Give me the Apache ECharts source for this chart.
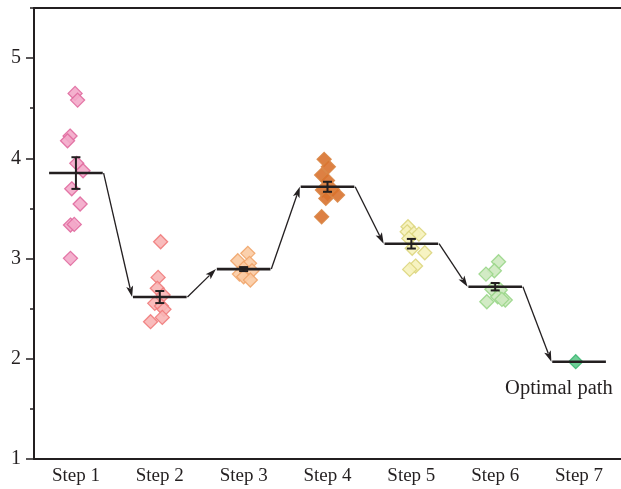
<!DOCTYPE html>
<html>
<head>
<meta charset="utf-8">
<script src="https://cdn.jsdelivr.net/npm/echarts@6/dist/echarts.min.js"></script>
<style>html,body{margin:0;padding:0;background:#fff}#main{width:621px;height:489px}</style>
</head>
<body>
<div id="main"></div>
<script>
const categories = ['Step 1', 'Step 2', 'Step 3', 'Step 4', 'Step 5', 'Step 6', 'Step 7'];
const yTicks = [1, 2, 3, 4, 5];
const means = [3.853, 2.616, 2.895, 3.716, 3.148, 2.719, 1.971];
const errors = [0.158, 0.06, 0.02, 0.05, 0.048, 0.037, 0];
// [jitter offset from step centre, value]
const step1 = [[-0.01, 4.648], [0.02, 4.581], [-0.07, 4.222], [-0.10, 4.175], [0.01, 3.950], [0.085, 3.876], [-0.05, 3.696], [0.05, 3.544], [-0.065, 3.334], [-0.02, 3.341], [-0.065, 3.002]];
const step2 = [[0.01, 3.168], [-0.02, 2.812], [-0.03, 2.703], [0.04, 2.636], [-0.06, 2.553], [0.02, 2.526], [0.05, 2.493], [0.03, 2.413], [-0.11, 2.370]];
const step3 = [[0.05, 3.052], [-0.07, 2.978], [0.07, 2.952], [0.0, 2.902], [0.10, 2.878], [-0.05, 2.845], [0.0, 2.818], [0.08, 2.786]];
const step4 = [[-0.04, 3.990], [0.01, 3.916], [-0.07, 3.833], [0.0, 3.780], [-0.06, 3.683], [0.06, 3.690], [0.0, 3.650], [0.12, 3.633], [-0.02, 3.600], [-0.07, 3.417]];
const step5 = [[-0.04, 3.317], [-0.05, 3.267], [0.03, 3.251], [0.09, 3.244], [-0.03, 3.201], [0.01, 3.102], [0.16, 3.058], [0.05, 2.925], [-0.02, 2.892]];
const step6 = [[0.04, 2.968], [-0.01, 2.878], [-0.11, 2.845], [-0.04, 2.693], [0.06, 2.686], [0.03, 2.619], [0.12, 2.586], [-0.10, 2.569], [0.08, 2.593]];
const step7 = [[-0.04, 1.971]];
const steps = [step1, step2, step3, step4, step5, step6, step7];
const fills = ['#f3a8c9', '#f8b5b5', '#fbcba3', '#d9722f', '#f6f2bb', '#cde9bf', '#5ec98b'];
const borders = ['#e06a9e', '#ef7b7b', '#f0a56c', '#d98545', '#dcd57e', '#9ad689', '#3fb874'];
const note = 'Optimal path';

const FONT = '"Liberation Serif", "DejaVu Serif", serif';
const INK = '#231f20';
const HALF = 0.32;

const chart = echarts.init(document.getElementById('main'));

const scatterSeries = steps.map((pts, i) => ({
  type: 'scatter',
  xAxisIndex: 1,
  yAxisIndex: 0,
  symbol: 'diamond',
  symbolSize: 14,
  z: 2,
  itemStyle: { color: fills[i], borderColor: borders[i], borderWidth: 1.3, opacity: 0.9 },
  data: pts.map(p => [i + 1 + p[0], p[1]])
}));

const meanSeries = {
  type: 'custom',
  xAxisIndex: 1,
  yAxisIndex: 0,
  z: 5,
  data: means.map((m, i) => [i + 1, m, errors[i]]),
  renderItem: function (params, api) {
    const x = api.value(0), m = api.value(1), e = api.value(2);
    const a = api.coord([x - HALF, m]);
    const b = api.coord([x + HALF, m]);
    const children = [{
      type: 'line', shape: { x1: a[0], y1: a[1], x2: b[0], y2: b[1] },
      style: { stroke: INK, lineWidth: 2.6 }
    }];
    if (e > 0) {
      const t = api.coord([x, m + e]);
      const bt = api.coord([x, m - e]);
      const cw = 4.5;
      children.push({ type: 'line', shape: { x1: t[0], y1: t[1], x2: bt[0], y2: bt[1] }, style: { stroke: INK, lineWidth: 2 } });
      children.push({ type: 'line', shape: { x1: t[0] - cw, y1: t[1], x2: t[0] + cw, y2: t[1] }, style: { stroke: INK, lineWidth: 2 } });
      children.push({ type: 'line', shape: { x1: bt[0] - cw, y1: bt[1], x2: bt[0] + cw, y2: bt[1] }, style: { stroke: INK, lineWidth: 2 } });
    }
    return { type: 'group', children: children };
  }
};

const arrowSeries = {
  type: 'custom',
  xAxisIndex: 1,
  yAxisIndex: 0,
  z: 4,
  data: means.slice(0, -1).map((m, i) => [i + 1, m, means[i + 1]]),
  renderItem: function (params, api) {
    const x = api.value(0);
    const s = api.coord([x + HALF + 0.01, api.value(1)]);
    const e = api.coord([x + 1 - HALF - 0.01, api.value(2)]);
    const dx = e[0] - s[0], dy = e[1] - s[1];
    const len = Math.sqrt(dx * dx + dy * dy);
    const ux = dx / len, uy = dy / len;
    const L = 11, W = 3.5;
    const bx = e[0] - ux * L, by = e[1] - uy * L;
    return {
      type: 'group',
      children: [
        { type: 'line', shape: { x1: s[0], y1: s[1], x2: bx + ux * 2, y2: by + uy * 2 }, style: { stroke: INK, lineWidth: 1.3 } },
        { type: 'polygon', shape: { points: [[e[0], e[1]], [bx - uy * W, by + ux * W], [bx + ux * 2.5, by + uy * 2.5], [bx + uy * W, by - ux * W]] }, style: { fill: INK } }
      ]
    };
  }
};

const noteSeries = {
  type: 'custom',
  xAxisIndex: 1,
  yAxisIndex: 0,
  z: 6,
  data: [[7, means[6]]],
  renderItem: function (params, api) {
    const p = api.coord([api.value(0), api.value(1)]);
    return {
      type: 'text',
      style: { text: note, x: p[0] - 74, y: p[1] + 27, textAlign: 'left', textVerticalAlign: 'middle', fill: INK, font: '20.5px ' + FONT }
    };
  }
};

chart.setOption({
  animation: false,
  backgroundColor: '#ffffff',
  grid: { left: 34, top: 8, bottom: 30, width: 590 },
  xAxis: [
    {
      type: 'category', data: categories, position: 'bottom', boundaryGap: true,
      axisLine: { show: true, lineStyle: { color: INK, width: 2 } },
      axisTick: { show: false },
      axisLabel: { color: INK, fontFamily: FONT, fontSize: 19, margin: 8 },
      splitLine: { show: false }
    },
    {
      type: 'value', min: 0.5, max: 7.5, position: 'top',
      axisLine: { show: true, onZero: false, lineStyle: { color: INK, width: 2 } },
      axisTick: { show: false }, axisLabel: { show: false }, splitLine: { show: false }
    }
  ],
  yAxis: [
    {
      type: 'value', min: 1, max: 5.5, interval: 0.5,
      axisLine: { show: true, onZero: false, lineStyle: { color: INK, width: 2 } },
      axisTick: { show: true, length: 4, lineStyle: { color: INK, width: 1.5 } },
      axisLabel: {
        color: INK, fontFamily: FONT, fontSize: 20, margin: 13,
        formatter: v => (yTicks.indexOf(v) >= 0 ? String(v) : '')
      },
      splitLine: { show: false }
    },
    {
      type: 'value', min: 1, max: 5.5, interval: 1, position: 'left',
      axisLine: { show: false },
      axisTick: { show: true, length: 8, customValues: yTicks, lineStyle: { color: INK, width: 1.5 } },
      axisLabel: { show: false },
      splitLine: { show: false }
    }
  ],
  series: [...scatterSeries, arrowSeries, meanSeries, noteSeries]
});
</script>
</body>
</html>
